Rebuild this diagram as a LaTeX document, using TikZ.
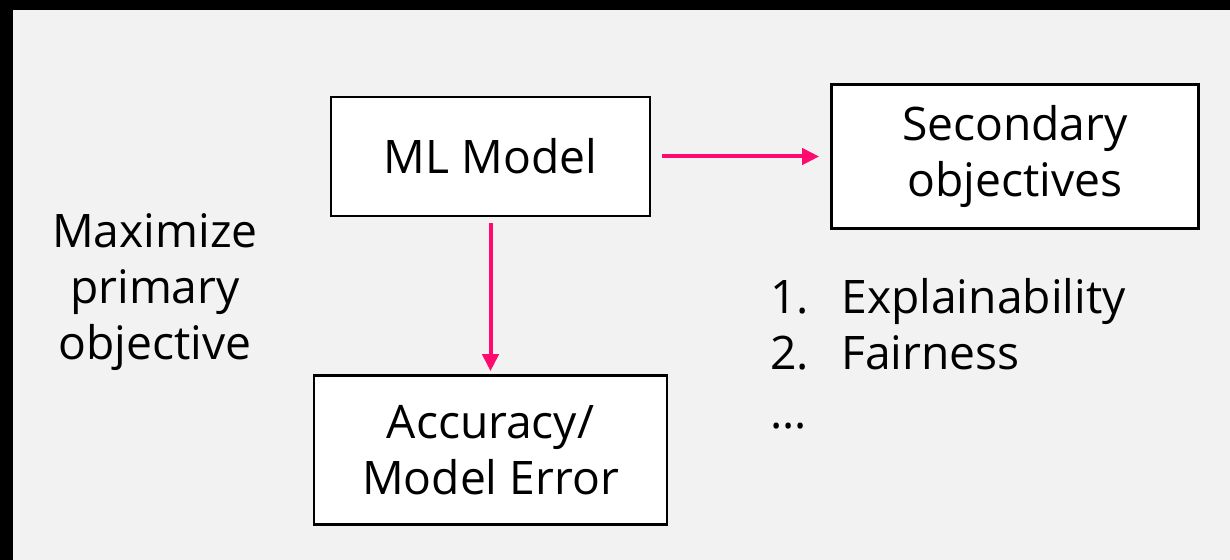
\documentclass[tikz,border=0pt]{standalone}
\usepackage{fontspec}
\setmainfont{Open Sans}
\usetikzlibrary{positioning,arrows.meta}
\definecolor{linkpink}{HTML}{FF0A6E}
\definecolor{slidegray}{HTML}{F2F2F2}

\begin{document}
\begin{tikzpicture}[x=0.02cm, y=-0.02cm,
					block/.style={rectangle, draw=black, fill=white, line width=0.05cm, align=center, inner sep=0pt, font=\fontsize{26.3}{32}\selectfont},
					label/.style={align=center, inner sep=0pt, font=\fontsize{26.3}{32}\selectfont},
					link/.style={draw=linkpink, line width=0.08cm, -{Triangle[length=0.34cm, width=0.32cm]}}
				]
				% frame and slide background
				\fill[black] (0,0) rectangle (1230,560);
				\fill[slidegray] (13,10) rectangle (1230,560);
				\node[block, minimum width=6.38cm, minimum height=2.38cm] (mlmodel) at (490.5,156.5) {ML Model};
				\node[block, minimum width=7.34cm, minimum height=2.88cm] (secondary) [right=3.58cm of mlmodel] {Secondary\\objectives};
				\node[block, minimum width=7.06cm, minimum height=2.98cm] (accuracy) [below=3.14cm of mlmodel] {Accuracy/\\Model Error};
				\node[label] (primary) at (155,292) {Maximize\\primary\\objective};
				% base is the last line here
				\node[label, align=left, anchor=base west] (goals) at (770,428) {\makebox[1.42cm][l]{1.}Explainability\\\makebox[1.42cm][l]{2.}Fairness\\[0.04cm]\ldots};
				\draw[link, shorten <=0.22cm, shorten >=0.22cm] (mlmodel.east) -- (secondary.west);
				\draw[link, shorten <=0.12cm, shorten >=0.06cm] (mlmodel.south) -- (accuracy.north);
				\end{tikzpicture}
\end{document}
